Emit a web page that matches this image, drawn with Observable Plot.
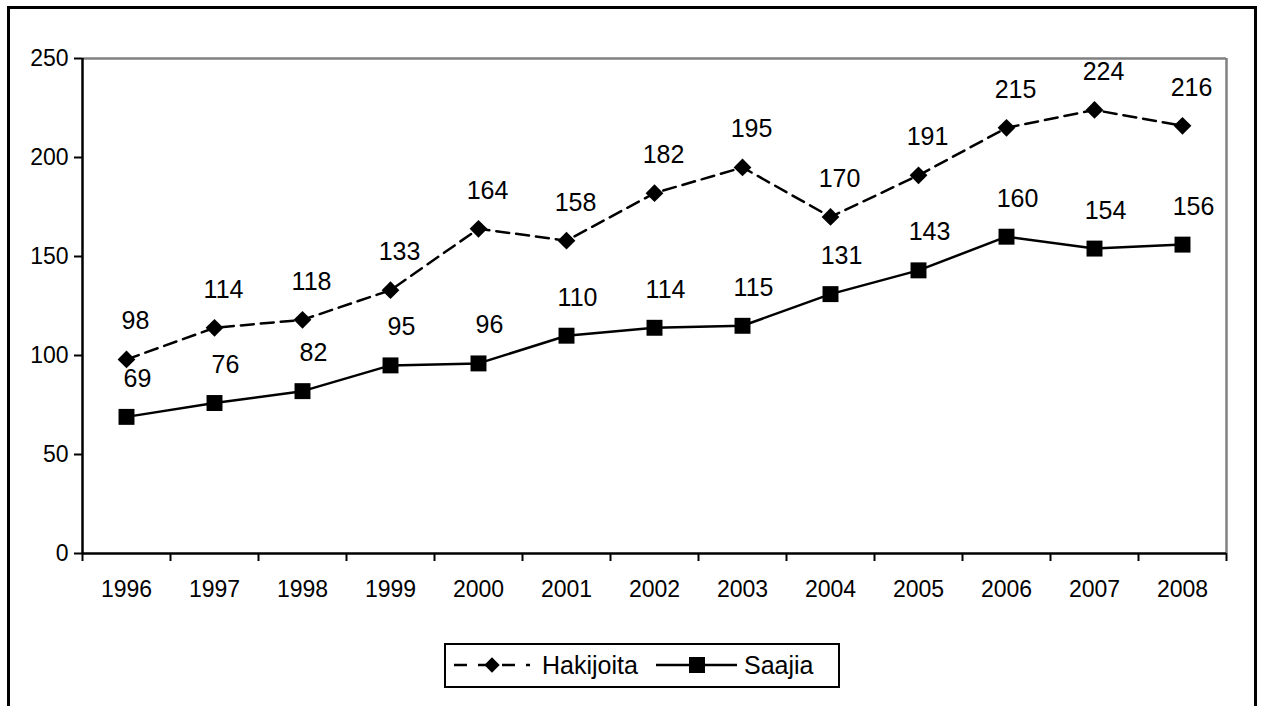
<!DOCTYPE html>
<html>
<head>
<meta charset="utf-8">
<script src="https://cdn.jsdelivr.net/npm/d3@7"></script>
<script src="https://cdn.jsdelivr.net/npm/@observablehq/plot@0.6"></script>
<style>
  html, body { margin: 0; padding: 0; background: #fff; overflow: hidden; }
  #wrap { position: relative; width: 1263px; height: 706px; font-family: "Liberation Sans", Arial, sans-serif; }
  #frame { position: absolute; left: 7px; top: 6px; width: 1250px; height: 720px; border: 3px solid #000; box-sizing: border-box; }
  #chart { position: absolute; left: 0; top: 0; }
  #legend { position: absolute; left: 444px; top: 643px; width: 396px; height: 45px; border: 2px solid #000; box-sizing: border-box; background: #fff; }
  #legend svg { display: block; }
</style>
</head>
<body>
<div id="wrap">
  <div id="frame"></div>
  <div id="chart"></div>
  <div id="legend"></div>
</div>
<script>
const years = [1996, 1997, 1998, 1999, 2000, 2001, 2002, 2003, 2004, 2005, 2006, 2007, 2008];
const hakijoita = [98, 114, 118, 133, 164, 158, 182, 195, 170, 191, 215, 224, 216];
const saajia = [69, 76, 82, 95, 96, 110, 114, 115, 131, 143, 160, 154, 156];
const yTicks = [0, 50, 100, 150, 200, 250];
const seriesNames = ["Hakijoita", "Saajia"];

const hData = years.map((y, i) => ({year: y, value: hakijoita[i]}));
const sData = years.map((y, i) => ({year: y, value: saajia[i]}));
const xMin = years[0] - 0.5, xMax = years[years.length - 1] + 0.5;
const boundaries = [...years.map(y => y - 0.5), xMax];

const chart = Plot.plot({
  width: 1263,
  height: 640,
  marginLeft: 82,
  marginRight: 37,
  marginTop: 58,
  marginBottom: 87,
  style: {fontFamily: "Liberation Sans, Arial, sans-serif", background: "transparent"},
  x: {domain: [xMin, xMax], label: null},
  y: {domain: [0, 250], label: null},
  marks: [
    Plot.ruleY([250], {stroke: "#808080", strokeWidth: 2.5}),
    Plot.ruleX([xMax], {y1: 0, y2: 250, stroke: "#808080", strokeWidth: 2.5}),
    Plot.ruleX([xMin], {y1: 0, y2: 250, stroke: "#000", strokeWidth: 2.5}),
    Plot.ruleY([0], {stroke: "#000", strokeWidth: 2.5}),
    Plot.axisY({ticks: yTicks, label: null, tickSize: 8, tickPadding: 6, tickFormat: d => String(d), fontSize: 23, stroke: "#000", strokeWidth: 2, color: "#000"}),
    Plot.axisX({ticks: boundaries, label: null, tickSize: 8, tickFormat: () => "", stroke: "#000", strokeWidth: 2}),
    Plot.axisX({ticks: years, label: null, tickSize: 0, tickPadding: 27, tickFormat: d => String(d), fontSize: 23, color: "#000"}),
    Plot.line(hData, {x: "year", y: "value", stroke: "#000", strokeWidth: 2.5, strokeDasharray: "13,7"}),
    Plot.line(sData, {x: "year", y: "value", stroke: "#000", strokeWidth: 2.5}),
    Plot.dot(hData, {x: "year", y: "value", symbol: "diamond2", r: 8, fill: "#000", stroke: "none"}),
    Plot.dot(sData, {x: "year", y: "value", symbol: "square", r: 9, fill: "#000", stroke: "none"}),
    Plot.text(hData, {x: "year", y: "value", text: d => String(d.value), dx: 9, dy: -38, fontSize: 25, fill: "#000"}),
    Plot.text(sData, {x: "year", y: "value", text: d => String(d.value), dx: 11, dy: -38, fontSize: 25, fill: "#000"})
  ]
});
document.getElementById("chart").appendChild(chart);

// Legend
const lg = d3.select("#legend").append("svg").attr("width", 392).attr("height", 41);
const cy = 20;
// Hakijoita item
lg.append("line").attr("x1", 8).attr("x2", 84).attr("y1", cy).attr("y2", cy)
  .attr("stroke", "#000").attr("stroke-width", 2.5).attr("stroke-dasharray", "13,11");
lg.append("path").attr("d", d3.symbol(d3.symbolDiamond2, 150)()).attr("transform", `translate(46,${cy})`).attr("fill", "#000");
lg.append("text").attr("x", 96).attr("y", cy).attr("dy", "0.35em").attr("font-size", 25).text(seriesNames[0]);
// Saajia item
lg.append("line").attr("x1", 210).attr("x2", 291).attr("y1", cy).attr("y2", cy)
  .attr("stroke", "#000").attr("stroke-width", 2.5);
lg.append("rect").attr("x", 243).attr("y", cy - 8).attr("width", 16).attr("height", 16).attr("fill", "#000");
lg.append("text").attr("x", 298).attr("y", cy).attr("dy", "0.35em").attr("font-size", 25).text(seriesNames[1]);
</script>
</body>
</html>
